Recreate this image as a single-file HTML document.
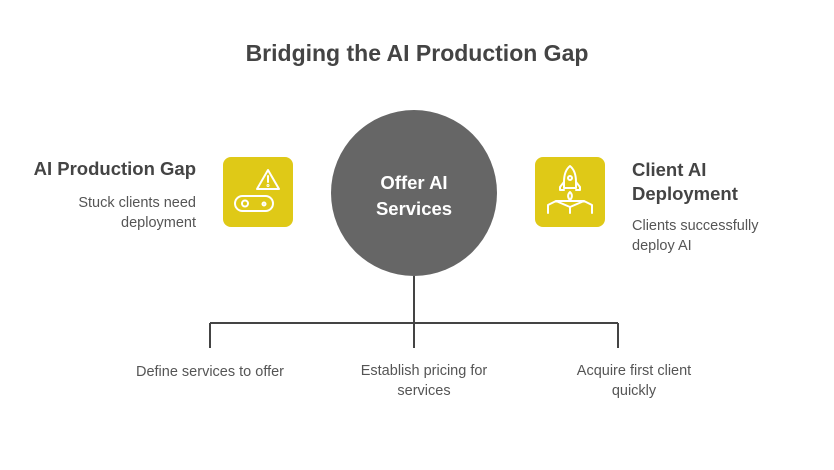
<!DOCTYPE html>
<html><head><meta charset="utf-8"><style>
body{margin:0;width:834px;height:470px;background:#fff;font-family:"Liberation Sans",sans-serif;position:relative;overflow:hidden;color:#555}
.t{position:absolute;white-space:nowrap}
</style></head><body>
<svg width="834" height="470" style="position:absolute;left:0;top:0">
<rect x="223" y="157" width="70" height="70" rx="8" fill="#dfc917"/>
<rect x="535" y="157" width="70" height="70" rx="8" fill="#dfc917"/>
<circle cx="414" cy="193" r="83" fill="#666"/>
<g stroke="#444" stroke-width="2" fill="none">
<path d="M414 276V323M210 323H618M210 323V348M414 323V348M618 323V348"/>
</g>
<g stroke="#fff" stroke-width="2" fill="none" stroke-linecap="round" stroke-linejoin="round">
<path d="M268 170L257 189H279Z"/><path d="M268 176V182"/><circle cx="268" cy="185.5" r="0.5"/>
<rect x="235" y="196" width="38" height="15" rx="7.5"/><circle cx="245" cy="203.5" r="3"/><circle cx="264" cy="204" r="1.5"/>
<path d="M570 166c-5 4-6 10-6 16v6h12v-6c0-6-1-12-6-16z"/><circle cx="570" cy="178" r="2"/>
<path d="M564 182l-4 5v3h4M576 182l4 5v3h-4"/><path d="M570 192c-3 3-2 6 0 8c2-2 3-5 0-8z"/>
<path d="M548 213v-8l8-4h28l8 4v8M556 201l14 6l14-6M570 207v6"/>
</g>
</svg>
<div class="t" style="left:0;width:834px;text-align:center;top:40px;font-size:23px;font-weight:bold;color:#444">Bridging the AI Production Gap</div>
<div class="t" style="left:331px;width:166px;text-align:center;top:170px;font-size:18.5px;font-weight:bold;color:#fff;line-height:26px">Offer AI<br>Services</div>
<div class="t" style="right:638px;top:158px;font-size:18.5px;font-weight:bold;color:#444;text-align:right">AI Production Gap</div>
<div class="t" style="right:638px;top:193px;font-size:14.5px;line-height:20px;text-align:right">Stuck clients need<br>deployment</div>
<div class="t" style="left:632px;top:158px;font-size:18.5px;font-weight:bold;color:#444;line-height:24px">Client AI<br>Deployment</div>
<div class="t" style="left:632px;top:216px;font-size:14.5px;line-height:20px">Clients successfully<br>deploy AI</div>
<div class="t" style="left:110px;width:200px;text-align:center;top:364px;font-size:14.5px">Define services to offer</div>
<div class="t" style="left:324px;width:200px;text-align:center;top:361px;font-size:14.5px;line-height:20px">Establish pricing for<br>services</div>
<div class="t" style="left:534px;width:200px;text-align:center;top:361px;font-size:14.5px;line-height:20px">Acquire first client<br>quickly</div>
</body></html>
